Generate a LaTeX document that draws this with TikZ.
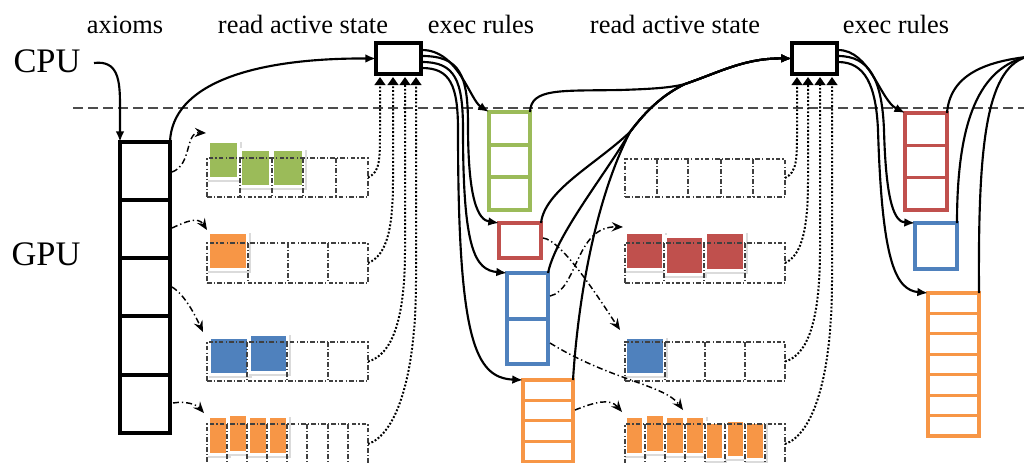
\documentclass[tikz,border=0pt]{standalone}
\usepackage{fontspec}
\setmainfont{Liberation Serif}
\usetikzlibrary{arrows.meta,calc}
\definecolor{cgreen}{HTML}{9BBB59}
\definecolor{cred}{HTML}{C0504D}
\definecolor{cblue}{HTML}{4F81BD}
\definecolor{corange}{HTML}{F79646}
\newcommand\mychip[5]{%
  \fill[black!14] ({#2-2},{#3-1}) rectangle ({#4+5},{#5+5});
  \fill[white] ({#2-3},{#3-3}) rectangle ({#4+3},{#5+3});
  \fill[#1] (#2,#3) rectangle (#4,#5);}
\tikzset{
  lbl/.style={font=\fontsize{19.8}{22}\selectfont, anchor=base, inner sep=0pt},
  big/.style={font=\fontsize{25.8}{28}\selectfont, anchor=base, inner sep=0pt},
  blkbox/.style={draw=black, line width=2.6pt, inner sep=0pt, outer sep=0pt, fill=white},
  colbox/.style={draw=#1, line width=2.3pt, inner sep=0pt, outer sep=0pt},
  coldiv/.style={draw=#1, line width=2.3pt},
  blkdiv/.style={draw=black, line width=2.6pt},
  flow/.style={line width=1.6pt, -{Latex[length=8pt,width=6.5pt]}},
  ddash/.style={line width=1.1pt, dash pattern=on 4.5pt off 2.2pt on 1pt off 2.2pt, -{Stealth[length=8.5pt,width=7pt,inset=3pt]}},
  queue/.style={draw=black!75, line width=0.9pt, dash pattern=on 3.5pt off 1.6pt on 0.9pt off 1.6pt, inner sep=0pt, outer sep=0pt},
  qdiv/.style={draw=black!75, line width=0.9pt, dash pattern=on 3.5pt off 1.6pt on 0.9pt off 1.6pt},
  dots/.style={line width=1.5pt, dash pattern=on 1.4pt off 1.4pt, -{Triangle[length=6pt,width=8pt]}},
  sepline/.style={draw=black!70, line width=0.9pt, dash pattern=on 7.5pt off 3.75pt},
}
\begin{document}
\begin{tikzpicture}[x=0.75pt,y=-0.75pt]
\useasboundingbox (0,0) rectangle (1024,462);
\clip (0,0) rectangle (1024,462);
% ---------- labels
\node[lbl] (tAx) at (125,33) {axioms};
\node[lbl] (tRd1) at (303,33) {read active state};
\node[lbl] (tEx1) at (481,33) {exec rules};
\node[lbl] (tRd2) at (675,33) {read active state};
\node[lbl] (tEx2) at (896,33) {exec rules};
\node[big] (tCPU) at (47,72) {CPU};
\node[big] (tGPU) at (46,265) {GPU};
\coordinate (sepA) at (73,108);
\coordinate (sepB) at (1024,108);
\draw[sepline] (sepA) -- (sepB);
% ---------- chips (left column)
\mychip{cgreen}{210}{143}{237}{177}
\mychip{cgreen}{242}{151}{269}{185}
\mychip{cgreen}{274}{151}{302}{185}
\mychip{corange}{210}{234}{246}{268}
\mychip{cblue}{211}{339}{247}{373}
\mychip{cblue}{251}{336}{286}{371}
\mychip{corange}{210}{418}{226}{453}
\mychip{corange}{230}{416}{246}{451}
\mychip{corange}{250}{418}{266}{453}
\mychip{corange}{270}{418}{286}{453}
% ---------- chips (right column)
\mychip{cred}{627}{234}{662}{268}
\mychip{cred}{667}{238}{702}{273}
\mychip{cred}{707}{234}{743}{269}
\mychip{cblue}{627}{339}{663}{373}
\mychip{corange}{627}{418}{642}{453}
\mychip{corange}{647}{416}{663}{451}
\mychip{corange}{667}{418}{683}{453}
\mychip{corange}{687}{418}{703}{453}
\mychip{corange}{707}{424}{722}{458}
\mychip{corange}{728}{422}{743}{456}
\mychip{corange}{747}{424}{763}{458}
% ---------- queues
\node[queue, minimum width=120.75pt, minimum height=29.25pt] (qL1) at (287.5,177.5) {};
\node[queue, minimum width=120.75pt, minimum height=30pt] (qL2) at (287.5,263) {};
\node[queue, minimum width=120.75pt, minimum height=29.25pt] (qL3) at (287.5,361.5) {};
\node[queue, minimum width=120.75pt, minimum height=30pt] (qL4) at (287.5,444) {};
\node[queue, minimum width=120pt, minimum height=28.5pt] (qR1) at (705,178) {};
\node[queue, minimum width=120pt, minimum height=30pt] (qR2) at (705,263) {};
\node[queue, minimum width=120pt, minimum height=29.25pt] (qR3) at (705,361.5) {};
\node[queue, minimum width=120pt, minimum height=30pt] (qR4) at (705,444) {};
\foreach \x in {240,272,303,336} \draw[qdiv] (\x,158) -- (\x,197);
\foreach \x in {248,288,328} \draw[qdiv] (\x,243) -- (\x,283);
\foreach \x in {247,287,328} \draw[qdiv] (\x,342) -- (\x,381);
\foreach \x in {227,247,267,287,307,328,348} \draw[qdiv] (\x,424) -- (\x,464);
\foreach \x in {657,688,721,753} \draw[qdiv] (\x,159) -- (\x,197);
\foreach \x in {664,704,745} \draw[qdiv] (\x,243) -- (\x,283);
\foreach \x in {665,705,745} \draw[qdiv] (\x,342) -- (\x,381);
\foreach \x in {645,665,685,705,725,745,765} \draw[qdiv] (\x,424) -- (\x,464);
% ---------- boxes
\node[blkbox, minimum width=37.5pt, minimum height=218.25pt] (ax) at (145,287.5) {};
\foreach \y in {200,258,316,375} \draw[blkdiv] (120,\y) -- (170,\y);
\node[blkbox, minimum width=33.75pt, minimum height=23.25pt] (cpu1) at (398.5,58.5) {};
\node[blkbox, minimum width=33.75pt, minimum height=23.25pt] (cpu2) at (814.5,58.5) {};
\node[colbox=cgreen, minimum width=30.75pt, minimum height=73.5pt] (green1) at (509.5,161) {};
\foreach \y in {145,177} \draw[coldiv=cgreen] (489,\y) -- (530,\y);
\node[colbox=cred, minimum width=31.5pt, minimum height=26.25pt] (red1) at (520,240.5) {};
\node[colbox=cblue, minimum width=30.75pt, minimum height=68.25pt] (blue1) at (527.5,318.5) {};
\draw[coldiv=cblue] (507,319) -- (548,319);
\node[colbox=corange, minimum width=37.5pt, minimum height=76.5pt] (orange1) at (548,431) {};
\foreach \y in {400.4,420.8,441.2,461.6} \draw[coldiv=corange] (523,\y) -- (573,\y);
\node[colbox=cred, minimum width=31.5pt, minimum height=72.75pt] (red2) at (926,161.5) {};
\foreach \y in {145.3,177.7} \draw[coldiv=cred] (905,\y) -- (947,\y);
\node[colbox=cblue, minimum width=31.5pt, minimum height=34.5pt] (blue2) at (936,246) {};
\node[colbox=corange, minimum width=38.25pt, minimum height=107.25pt] (orange2) at (953.5,364.5) {};
\foreach \y in {313.4,333.9,354.3,374.7,395.1,415.6} \draw[coldiv=corange] (928,\y) -- (979,\y);
% ---------- named end points
\coordinate (cpuo) at (94,63);
\coordinate (o1a) at (422,50); \coordinate (o1b) at (422,56);
\coordinate (o1c) at (422,62); \coordinate (o1d) at (422,68);
\coordinate (o2a) at (838,50); \coordinate (o2b) at (838,56); \coordinate (o2c) at (838,62);
\coordinate (i1a) at (380,77); \coordinate (i1b) at (393,77);
\coordinate (i1c) at (405,77); \coordinate (i1d) at (416,77);
\coordinate (i2a) at (797,77); \coordinate (i2b) at (808,77);
\coordinate (i2c) at (820,77); \coordinate (i2d) at (832,77);
\coordinate (mg) at (630,132); \coordinate (mg2) at (685,84);
\coordinate (exitR) at (1026,57);
\coordinate (a1s) at (172,172); \coordinate (a1e) at (206,133);
\coordinate (a2s) at (172,228); \coordinate (a2e) at (207,230);
\coordinate (a3s) at (172,287); \coordinate (a3e) at (203,332);
\coordinate (a4s) at (173,403); \coordinate (a4e) at (204,413);
\coordinate (b1s) at (543,238); \coordinate (b1e) at (620,330);
\coordinate (b2s) at (550,296); \coordinate (b2e) at (623,227);
\coordinate (b3s) at (550,343); \coordinate (b3e) at (683,410);
\coordinate (b4s) at (575,410); \coordinate (b4e) at (622,412);
% ---------- dotted reads
\draw[dots] (qL1.east) .. controls (380,172) and (380,160) .. (380,130) -- (i1a);
\draw[dots] (qL2.east) .. controls (388,255) and (393,225) .. (393,180) -- (i1b);
\draw[dots] (qL3.east) .. controls (392,355) and (405,320) .. (405,250) -- (i1c);
\draw[dots] (qL4.east) .. controls (395,435) and (416,380) .. (416,280) -- (i1d);
\draw[dots] (qR1.east) .. controls (797,172) and (797,160) .. (797,130) -- (i2a);
\draw[dots] (qR2.east) .. controls (803,255) and (808,225) .. (808,180) -- (i2b);
\draw[dots] (qR3.east) .. controls (808,355) and (820,320) .. (820,250) -- (i2c);
\draw[dots] (qR4.east) .. controls (812,435) and (832,380) .. (832,280) -- (i2d);
% ---------- dash-dot pushes
\draw[ddash] (a1s) .. controls (192,165) and (185,132) .. (a1e);
\draw[ddash] (a2s) .. controls (185,222) and (198,216) .. (a2e);
\draw[ddash] (a3s) .. controls (185,295) and (195,315) .. (a3e);
\draw[ddash] (a4s) .. controls (185,401) and (196,404) .. (a4e);
\draw[ddash] (b1s) .. controls (562,240) and (600,300) .. (b1e);
\draw[ddash] (b2s) .. controls (578,290) and (575,226) .. (b2e);
\draw[ddash] (b3s) .. controls (610,380) and (665,385) .. (b3e);
\draw[ddash] (b4s) .. controls (595,402) and (610,398) .. (b4e);
% ---------- CPU / GPU flows
\draw[flow] (cpuo) .. controls (118,60) and (120,80) .. (120,105) -- (ax.north west);
\draw[flow] (ax.north east) .. controls (172,85) and (250,58) .. (cpu1.west);
\draw[flow] (o1a) .. controls (458,50) and (470,100) .. (green1.north west);
\draw[flow] (o1b) .. controls (460,56) and (468,75) .. (468,125) .. controls (468,200) and (478,220) .. (red1.north west);
\draw[flow] (o1c) .. controls (455,62) and (463,80) .. (463,130) .. controls (463,250) and (475,270) .. (blue1.north west);
\draw[flow] (o1d) .. controls (450,68) and (458,85) .. (458,130) .. controls (458,340) and (475,378) .. (orange1.north west);
\draw[flow] (green1.north east) .. controls (531,88) and (560,91) .. (620,90) .. controls (650,89) and (670,88) .. (mg2) .. controls (720,72) and (745,58) .. (cpu2.west);
\draw[flow] (red1.north east) .. controls (545,190) and (595,165) .. (mg) .. controls (645,112) and (662,95) .. (mg2) .. controls (720,72) and (745,58) .. (cpu2.west);
\draw[flow] (blue1.north east) .. controls (556,235) and (605,175) .. (mg) .. controls (645,112) and (662,95) .. (mg2) .. controls (720,72) and (745,58) .. (cpu2.west);
\draw[flow] (orange1.north east) .. controls (578,300) and (595,200) .. (mg) .. controls (645,112) and (662,95) .. (mg2) .. controls (720,72) and (745,58) .. (cpu2.west);
\draw[flow] (o2a) .. controls (870,50) and (880,100) .. (red2.north west);
\draw[flow] (o2b) .. controls (870,56) and (882,80) .. (884,130) .. controls (886,205) and (895,222) .. (blue2.north west);
\draw[flow] (o2c) .. controls (865,62) and (876,85) .. (878,130) .. controls (882,260) and (895,290) .. (orange2.north west);
\draw[line width=1.6pt] (red2.north east) .. controls (950,75) and (985,62) .. (exitR);
\draw[line width=1.6pt] (blue2.north east) .. controls (957,130) and (975,70) .. (exitR);
\draw[line width=1.6pt] (orange2.north east) .. controls (978,150) and (985,70) .. (exitR);
\end{tikzpicture}
\end{document}
